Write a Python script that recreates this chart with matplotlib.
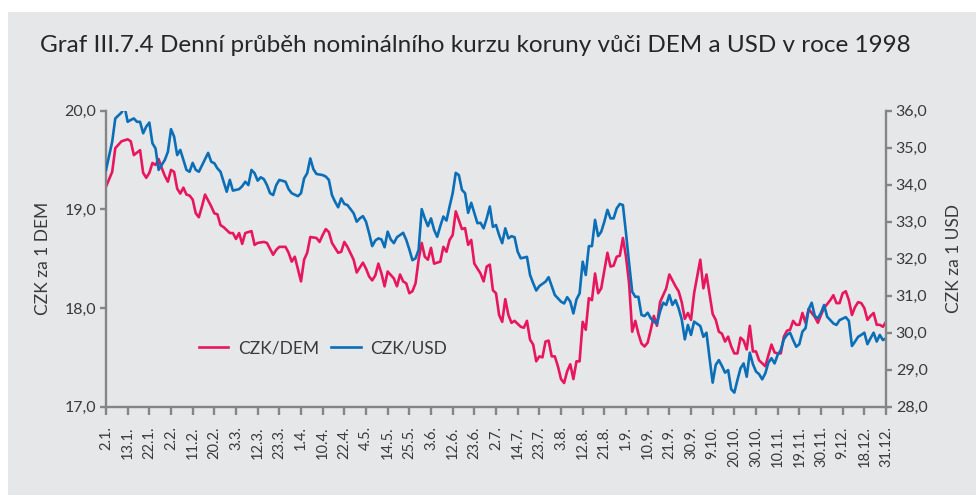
import matplotlib
matplotlib.use('Agg')
import matplotlib.pyplot as plt
from matplotlib.patches import Rectangle
from matplotlib.ticker import FuncFormatter, FixedLocator

plt.rcParams['font.family'] = ['Lato', 'DejaVu Sans']

title = "Graf III.7.4 Denní průběh nominálního kurzu koruny vůči DEM a USD v roce 1998"

tick_labels = ["2.1.", "13.1.", "22.1.", "2.2.", "11.2.", "20.2.", "3.3.", "12.3.", "23.3.",
               "1.4.", "10.4.", "22.4.", "4.5.", "14.5.", "25.5.", "3.6.", "12.6.", "23.6.",
               "2.7.", "14.7.", "23.7.", "3.8.", "12.8.", "21.8.", "1.9.", "10.9.", "21.9.",
               "30.9.", "9.10.", "20.10.", "30.10.", "10.11.", "19.11.", "30.11.", "9.12.",
               "18.12.", "31.12."]
tick_step = 7  # trading days between labels

# CZK/DEM (trading-day index, rate)
dem_day = [0, 2, 3, 5, 6, 7, 8, 9, 11, 12, 13, 14, 15, 16, 17, 18, 19, 20, 21, 22,
           23, 24, 25, 26, 27, 28, 29, 30, 31, 32, 34, 35, 36, 37, 38, 40, 41, 42, 43, 44,
           45, 46, 47, 48, 49, 51, 52, 54, 55, 56, 58, 59, 60, 61, 63, 64, 65, 66, 68, 69,
           70, 71, 72, 73, 75, 76, 77, 78, 80, 81, 83, 84, 85, 86, 87, 88, 89, 90, 91, 93,
           94, 95, 96, 97, 98, 99, 100, 101, 102, 103, 104, 105, 106, 108, 109, 110, 111, 112, 113, 114,
           115, 116, 117, 118, 119, 121, 122, 123, 124, 125, 126, 127, 128, 129, 130, 131, 132, 134, 135, 136,
           137, 138, 139, 140, 141, 142, 143, 144, 145, 146, 147, 148, 149, 150, 151, 152, 153, 154, 155, 156,
           157, 158, 159, 160, 162, 163, 164, 165, 166, 167, 168, 169, 170, 171, 172, 173, 174, 175, 176, 177,
           178, 179, 180, 181, 182, 183, 184, 185, 186, 187, 188, 189, 190, 192, 193, 194, 196, 197, 198, 199,
           200, 201, 202, 203, 204, 205, 206, 207, 208, 209, 210, 211, 212, 213, 214, 215, 216, 217, 218, 219,
           220, 221, 222, 223, 224, 225, 226, 227, 228, 229, 230, 231, 232, 233, 234, 235, 236, 237, 238, 239,
           240, 241, 242, 243, 244, 245, 246, 247, 248, 249, 250, 251, 252]
dem_rate = [19.23, 19.38, 19.62, 19.69, 19.70, 19.71, 19.69, 19.55, 19.60, 19.37, 19.32, 19.37, 19.47, 19.45, 19.51, 19.42, 19.34, 19.28, 19.40, 19.38,
            19.21, 19.16, 19.22, 19.15, 19.14, 19.10, 18.96, 18.92, 19.03, 19.15, 19.03, 18.96, 18.95, 18.84, 18.82, 18.76, 18.76, 18.70, 18.76, 18.65,
            18.76, 18.77, 18.78, 18.64, 18.66, 18.67, 18.66, 18.54, 18.59, 18.62, 18.62, 18.56, 18.47, 18.52, 18.27, 18.49, 18.56, 18.72, 18.71, 18.67,
            18.74, 18.80, 18.77, 18.66, 18.56, 18.57, 18.67, 18.62, 18.49, 18.36, 18.46, 18.40, 18.32, 18.28, 18.33, 18.45, 18.35, 18.22, 18.37, 18.30,
            18.22, 18.34, 18.27, 18.25, 18.15, 18.17, 18.25, 18.49, 18.66, 18.52, 18.49, 18.61, 18.45, 18.47, 18.62, 18.57, 18.69, 18.74, 18.98, 18.89,
            18.80, 18.81, 18.64, 18.69, 18.45, 18.35, 18.27, 18.42, 18.44, 18.18, 18.15, 17.93, 17.86, 18.09, 17.93, 17.85, 17.87, 17.81, 17.80, 17.87,
            17.68, 17.63, 17.46, 17.51, 17.50, 17.66, 17.67, 17.51, 17.51, 17.41, 17.28, 17.24, 17.36, 17.43, 17.28, 17.46, 17.46, 17.86, 17.78, 18.10,
            18.08, 18.35, 18.15, 18.20, 18.56, 18.42, 18.43, 18.52, 18.53, 18.71, 18.52, 18.25, 17.76, 17.87, 17.74, 17.64, 17.61, 17.65, 17.78, 17.92,
            17.82, 18.06, 18.13, 18.20, 18.34, 18.28, 18.22, 18.17, 18.06, 17.89, 17.95, 17.88, 18.15, 18.49, 18.20, 18.34, 17.94, 17.88, 17.76, 17.74,
            17.66, 17.71, 17.61, 17.54, 17.54, 17.70, 17.67, 17.58, 17.82, 17.56, 17.56, 17.47, 17.44, 17.41, 17.52, 17.63, 17.55, 17.54, 17.54, 17.71,
            17.77, 17.78, 17.87, 17.83, 17.83, 17.95, 17.85, 17.99, 17.95, 17.91, 17.85, 17.93, 18.00, 18.04, 18.08, 18.13, 18.05, 18.05, 18.15, 18.17,
            18.08, 17.93, 18.01, 18.06, 18.05, 18.00, 17.88, 17.92, 17.95, 17.83, 17.83, 17.81, 17.86]

# CZK/USD (trading-day index, rate)
usd_day = [0, 2, 3, 5, 6, 7, 8, 9, 10, 11, 12, 13, 14, 15, 16, 17, 19, 20, 21, 22,
           23, 24, 26, 27, 28, 29, 30, 33, 34, 35, 36, 37, 38, 39, 40, 41, 43, 44, 45, 46,
           47, 48, 49, 50, 51, 52, 53, 54, 55, 56, 58, 59, 60, 62, 63, 64, 65, 66, 67, 68,
           70, 71, 72, 73, 74, 75, 76, 77, 78, 80, 81, 82, 83, 84, 85, 86, 87, 88, 89, 90,
           91, 92, 93, 94, 96, 97, 98, 99, 100, 101, 102, 103, 104, 105, 106, 107, 108, 109, 110, 111,
           112, 113, 114, 115, 116, 117, 118, 119, 120, 121, 122, 123, 124, 125, 126, 127, 128, 129, 130, 131,
           132, 133, 134, 136, 137, 138, 139, 140, 142, 143, 144, 145, 147, 148, 149, 150, 151, 152, 153, 154,
           155, 156, 157, 158, 159, 160, 161, 162, 163, 164, 165, 166, 167, 168, 169, 170, 171, 172, 173, 174,
           175, 176, 177, 178, 179, 180, 181, 182, 183, 184, 185, 186, 187, 188, 189, 190, 191, 192, 193, 194,
           195, 196, 197, 198, 199, 200, 201, 202, 203, 204, 205, 206, 207, 208, 209, 210, 211, 212, 213, 214,
           215, 216, 217, 218, 219, 220, 221, 222, 223, 224, 225, 226, 227, 228, 229, 230, 231, 232, 233, 234,
           235, 236, 237, 239, 240, 241, 242, 243, 244, 245, 246, 247, 248, 249, 250, 251, 252]
usd_rate = [34.40, 35.16, 35.79, 35.95, 36.11, 35.70, 35.75, 35.79, 35.70, 35.70, 35.39, 35.57, 35.68, 35.12, 34.98, 34.40, 34.67, 34.89, 35.50, 35.30,
            34.80, 34.94, 34.40, 34.35, 34.59, 34.40, 34.35, 34.86, 34.62, 34.58, 34.44, 34.35, 34.08, 33.81, 34.13, 33.84, 33.88, 33.96, 34.08, 33.99,
            34.40, 34.31, 34.11, 34.20, 34.15, 33.99, 33.77, 33.72, 33.99, 34.13, 34.08, 33.88, 33.77, 33.69, 33.77, 34.17, 34.31, 34.71, 34.42, 34.29,
            34.26, 34.22, 34.13, 33.72, 33.54, 33.39, 33.63, 33.48, 33.45, 33.23, 33.00, 33.09, 33.15, 33.00, 32.69, 32.34, 32.49, 32.55, 32.52, 32.31,
            32.73, 32.52, 32.42, 32.58, 32.70, 32.51, 32.25, 31.96, 32.01, 32.24, 33.34, 33.09, 32.88, 33.09, 32.78, 32.59, 32.88, 33.14, 33.03, 33.41,
            33.77, 34.32, 34.26, 33.86, 33.77, 33.24, 33.51, 33.23, 32.96, 32.97, 32.82, 33.09, 33.41, 32.86, 32.91, 32.64, 32.42, 32.82, 32.55, 32.61,
            32.58, 32.19, 32.01, 32.05, 31.56, 31.34, 31.14, 31.26, 31.38, 31.50, 31.26, 31.02, 30.84, 30.79, 30.96, 30.84, 30.52, 30.90, 31.06, 31.92,
            31.56, 32.34, 32.34, 33.05, 32.61, 32.73, 33.00, 33.32, 33.09, 33.09, 33.36, 33.48, 33.45, 32.69, 31.88, 31.11, 30.97, 30.97, 30.48, 30.45,
            30.54, 30.39, 30.30, 30.24, 30.57, 30.81, 30.75, 31.02, 30.75, 30.88, 30.66, 30.36, 29.82, 30.21, 29.94, 30.30, 30.24, 30.18, 29.89, 30.00,
            29.31, 28.65, 29.13, 29.26, 29.10, 28.92, 28.99, 28.47, 28.38, 28.72, 29.04, 29.17, 28.81, 29.46, 29.15, 28.95, 28.88, 28.74, 28.90, 29.19,
            29.31, 29.17, 29.40, 29.53, 29.82, 29.94, 30.00, 29.80, 29.62, 29.69, 30.03, 30.12, 30.63, 30.81, 30.45, 30.39, 30.54, 30.75, 30.43, 30.34,
            30.25, 30.21, 30.34, 30.42, 30.32, 29.64, 29.76, 29.89, 29.94, 30.00, 29.69, 29.85, 30.00, 29.76, 29.94, 29.80, 29.85]

dem_ticks = [17, 18, 19, 20]
usd_ticks = [28, 29, 30, 31, 32, 33, 34, 35, 36]

BG = '#E6E7E9'
RED = '#E8175D'
BLUE = '#0B6FB8'
AXC = '#858585'
TXT = '#3A3A3A'

W, H = 976, 495
fig = plt.figure(figsize=(W / 100, H / 100), dpi=100)
fig.patch.set_facecolor('white')
fig.patches.append(Rectangle((8 / W, 0), 1 - 8 / W, 1 - 12 / H, transform=fig.transFigure,
                             facecolor=BG, edgecolor='none', zorder=-10))

ax = fig.add_axes([106 / W, 1 - 406.7 / H, 780 / W, 296 / H])
ax.set_facecolor('none')
ax2 = ax.twinx()

l1, = ax.plot(dem_day, dem_rate, color=RED, lw=1.9, solid_joinstyle='round', label='CZK/DEM')
l2, = ax2.plot(usd_day, usd_rate, color=BLUE, lw=1.9, solid_joinstyle='round', label='CZK/USD')

xmax = tick_step * (len(tick_labels) - 1)
ax.set_xlim(0, xmax)
ax.set_ylim(17, 20)
ax2.set_ylim(28, 36)

ax.xaxis.set_major_locator(FixedLocator(list(range(0, xmax + 1, tick_step))))
ax.set_xticklabels(tick_labels, rotation=90, fontsize=10.5, color=TXT)
ax.yaxis.set_major_locator(FixedLocator(dem_ticks))
ax2.yaxis.set_major_locator(FixedLocator(usd_ticks))
fmt = FuncFormatter(lambda v, p: f"{v:.1f}".replace('.', ','))
ax.yaxis.set_major_formatter(fmt)
ax2.yaxis.set_major_formatter(fmt)

for a in (ax, ax2):
    for s in a.spines.values():
        s.set_visible(False)
ax.spines['left'].set_visible(True)
ax.spines['bottom'].set_visible(True)
ax2.spines['right'].set_visible(True)
for s in (ax.spines['left'], ax.spines['bottom'], ax2.spines['right']):
    s.set_color(AXC)
    s.set_linewidth(1.7)

ax.tick_params(axis='x', direction='out', length=6, width=1.7, color=AXC, pad=8)
ax.tick_params(axis='y', direction='out', length=4, width=1.7, color=AXC, pad=3,
               labelsize=11.5, labelcolor=TXT)
ax2.tick_params(axis='y', direction='out', length=4, width=1.7, color=AXC, pad=3,
                labelsize=11.5, labelcolor=TXT)

ax.set_ylabel('CZK za 1 DEM', fontsize=12.5, color=TXT, labelpad=10)
ax2.set_ylabel('CZK za 1 USD', fontsize=12.5, color=TXT, labelpad=13, rotation=90)

fig.text(475 / W, 1 - 45 / H, title, ha='center', va='center', fontsize=17.5, color='#262626')

leg = ax2.legend(handles=[l1, l2], loc='center left', bbox_to_anchor=(0.119, 0.198),
                 ncol=2, frameon=False, fontsize=12.5, handlelength=1.7,
                 handletextpad=0.55, columnspacing=0.7, borderpad=0, borderaxespad=0)
for t in leg.get_texts():
    t.set_color(TXT)

fig.savefig('out.png', dpi=100, facecolor=fig.get_facecolor())
